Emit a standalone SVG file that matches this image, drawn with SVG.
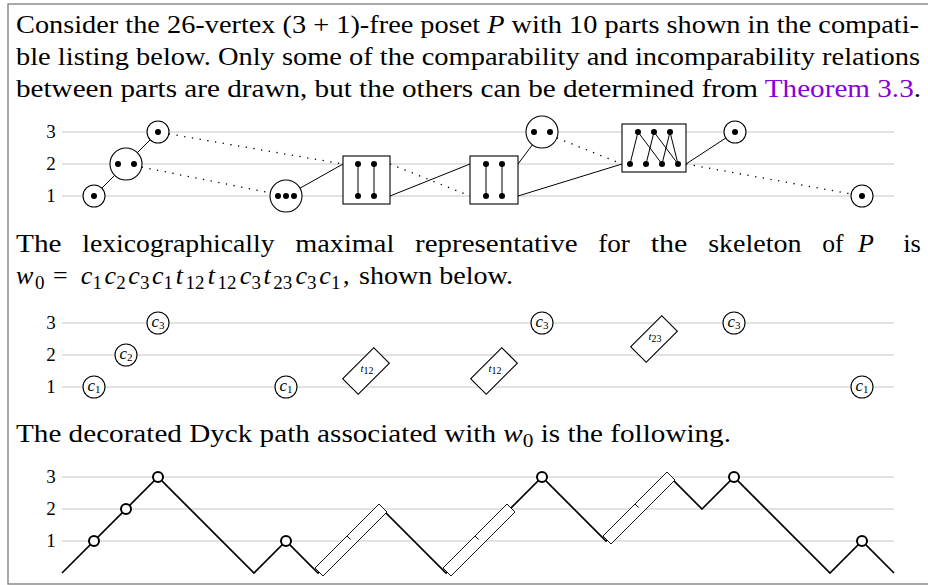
<svg xmlns="http://www.w3.org/2000/svg" width="928" height="585" viewBox="0 0 928 585">
<style>
.t{font-family:"Liberation Serif","Times New Roman",serif;font-size:26px;fill:#000}
.i{font-style:italic}
.s{font-size:19px}
.lab{font-family:"Liberation Serif",serif;font-size:19px;text-anchor:middle;fill:#000}
.cl{font-family:"Liberation Serif",serif;font-size:17px;text-anchor:middle;fill:#000}
.tl{font-family:"Liberation Serif",serif;font-size:11px;text-anchor:middle;fill:#000}
.grid{stroke:#c6c6c6;stroke-width:1;fill:none}
.node{fill:#fff;stroke:#000;stroke-width:1.1}
.dot{fill:#000}
.edge{stroke:#000;stroke-width:1;fill:none}
.dotted{stroke:#000;stroke-width:1.3;stroke-dasharray:1.3 6.5;fill:none}
.dyck{stroke:#000;stroke-width:1.7;fill:none;stroke-linejoin:miter}
.dec{fill:#fff;stroke:#000;stroke-width:0.9}
.mark{fill:#fff;stroke:#000;stroke-width:2}
</style>
<rect x="8" y="4" width="930" height="580" fill="#fff" stroke="#7a7a7a" stroke-width="1.3"/>

<g id="text">
<text class="t" x="16" y="33" textLength="903" lengthAdjust="spacingAndGlyphs">Consider the 26-vertex (3 + 1)-free poset <tspan class="i">P</tspan> with 10 parts shown in the compati-</text>
<text class="t" x="16" y="65" textLength="904" lengthAdjust="spacingAndGlyphs">ble listing below. Only some of the comparability and incomparability relations</text>
<text class="t" x="16" y="97" textLength="905" lengthAdjust="spacingAndGlyphs">between parts are drawn, but the others can be determined from <tspan fill="#8a00d6">Theorem 3.3</tspan>.</text>

<text class="t" x="16" y="252" textLength="45.5" lengthAdjust="spacingAndGlyphs">The</text>
<text class="t" x="82.3" y="252" textLength="192.2" lengthAdjust="spacingAndGlyphs">lexicographically</text>
<text class="t" x="295.3" y="252" textLength="99" lengthAdjust="spacingAndGlyphs">maximal</text>
<text class="t" x="415.1" y="252" textLength="162.4" lengthAdjust="spacingAndGlyphs">representative</text>
<text class="t" x="598.3" y="252" textLength="31.6" lengthAdjust="spacingAndGlyphs">for</text>
<text class="t" x="650.7" y="252" textLength="36.7" lengthAdjust="spacingAndGlyphs">the</text>
<text class="t" x="708.2" y="252" textLength="93.3" lengthAdjust="spacingAndGlyphs">skeleton</text>
<text class="t" x="822.3" y="252" textLength="21.3" lengthAdjust="spacingAndGlyphs">of</text>
<text class="t i" x="858" y="252">P</text>
<text class="t" x="903.2" y="252" textLength="17.7" lengthAdjust="spacingAndGlyphs">is</text>

<text class="t" y="284"><tspan class="i" x="16">w</tspan><tspan class="s" x="35" dy="5">0</tspan><tspan x="53" dy="-5">=</tspan></text>
<text class="t" y="284"><tspan class="i" x="80.8">c</tspan><tspan class="s" x="92.4" dy="5">1</tspan><tspan class="i" x="104.6" dy="-5">c</tspan><tspan class="s" x="116.2" dy="5">2</tspan><tspan class="i" x="128.3" dy="-5">c</tspan><tspan class="s" x="139.9" dy="5">3</tspan><tspan class="i" x="152" dy="-5">c</tspan><tspan class="s" x="163.6" dy="5">1</tspan><tspan class="i" x="175.8" dy="-5">t</tspan><tspan class="s" x="185.6" dy="5">12</tspan><tspan class="i" x="207.8" dy="-5">t</tspan><tspan class="s" x="217.6" dy="5">12</tspan><tspan class="i" x="239.8" dy="-5">c</tspan><tspan class="s" x="251.4" dy="5">3</tspan><tspan class="i" x="263.5" dy="-5">t</tspan><tspan class="s" x="273.3" dy="5">23</tspan><tspan class="i" x="295.5" dy="-5">c</tspan><tspan class="s" x="307.1" dy="5">3</tspan><tspan class="i" x="319.3" dy="-5">c</tspan><tspan class="s" x="330.9" dy="5">1</tspan><tspan x="343" dy="-5">,</tspan></text>
<text class="t" x="359" y="284" textLength="154" lengthAdjust="spacingAndGlyphs">shown below.</text>

<text class="t" x="16" y="442" textLength="715" lengthAdjust="spacingAndGlyphs">The decorated Dyck path associated with <tspan class="i">w</tspan><tspan class="s" dy="5">0</tspan><tspan dy="-5"> is the following.</tspan></text>
</g>

<g id="grid">
<path class="grid" d="M62 132H894M62 164H894M62 196H894M62 323H894M62 355H894M62 387H894M62 477H894M62 509H894M62 541H894"/>
<text class="lab" x="51" y="138">3</text><text class="lab" x="51" y="170">2</text><text class="lab" x="51" y="202">1</text>
<text class="lab" x="51" y="329">3</text><text class="lab" x="51" y="361">2</text><text class="lab" x="51" y="393">1</text>
<text class="lab" x="51" y="483">3</text><text class="lab" x="51" y="515">2</text><text class="lab" x="51" y="547">1</text>
</g>

<g id="connectors">
<line class="edge" x1="101.8" y1="188.2" x2="114.7" y2="175.3"/>
<line class="edge" x1="137.3" y1="152.7" x2="150.2" y2="139.8"/>
<line class="dotted" x1="168.8" y1="133.9" x2="343" y2="164"/>
<line class="dotted" x1="141.7" y1="167.1" x2="270.3" y2="192.9"/>
<line class="edge" x1="300" y1="188.2" x2="343" y2="164"/>
<line class="dotted" x1="390" y1="164" x2="470" y2="196"/>
<line class="edge" x1="390" y1="196" x2="470" y2="164"/>
<line class="edge" x1="518" y1="164" x2="532.4" y2="144.8"/>
<line class="edge" x1="518" y1="196" x2="622" y2="164"/>
<line class="dotted" x1="556.8" y1="137.9" x2="622" y2="164"/>
<line class="edge" x1="686" y1="164" x2="725.8" y2="138"/>
<line class="dotted" x1="686" y1="164" x2="851.2" y2="194"/>
</g>

<g id="p1"><circle class="node" cx="94" cy="196" r="11"/><circle class="dot" cx="94" cy="196" r="3"/></g>
<g id="p2"><circle class="node" cx="126" cy="164" r="16"/><circle class="dot" cx="118" cy="164" r="3"/><circle class="dot" cx="134" cy="164" r="3"/></g>
<g id="p3"><circle class="node" cx="158" cy="132" r="11"/><circle class="dot" cx="158" cy="132" r="3"/></g>
<g id="p4"><circle class="node" cx="286" cy="196" r="16"/><circle class="dot" cx="278" cy="196" r="3"/><circle class="dot" cx="286" cy="196" r="3"/><circle class="dot" cx="294" cy="196" r="3"/></g>
<g id="p5"><rect class="node" x="343" y="156" width="47" height="48"/><path class="edge" d="M358 164V196M374 164V196"/><circle class="dot" cx="358" cy="164" r="3"/><circle class="dot" cx="374" cy="164" r="3"/><circle class="dot" cx="358" cy="196" r="3"/><circle class="dot" cx="374" cy="196" r="3"/></g>
<g id="p6"><rect class="node" x="470" y="156" width="48" height="48"/><path class="edge" d="M486 164V196M502 164V196"/><circle class="dot" cx="486" cy="164" r="3"/><circle class="dot" cx="502" cy="164" r="3"/><circle class="dot" cx="486" cy="196" r="3"/><circle class="dot" cx="502" cy="196" r="3"/></g>
<g id="p7"><circle class="node" cx="542" cy="132" r="16"/><circle class="dot" cx="534" cy="132" r="3"/><circle class="dot" cx="550" cy="132" r="3"/></g>
<g id="p8"><rect class="node" x="622" y="124" width="64" height="48"/><path class="edge" d="M638 132L630 164M638 132L662 164M654 132L646 164M654 132L678 164M670 132L662 164M670 132L678 164"/><circle class="dot" cx="638" cy="132" r="3"/><circle class="dot" cx="654" cy="132" r="3"/><circle class="dot" cx="670" cy="132" r="3"/><circle class="dot" cx="630" cy="164" r="3"/><circle class="dot" cx="646" cy="164" r="3"/><circle class="dot" cx="662" cy="164" r="3"/><circle class="dot" cx="678" cy="164" r="3"/></g>
<g id="p9"><circle class="node" cx="735" cy="132" r="11"/><circle class="dot" cx="735" cy="132" r="3"/></g>
<g id="p10"><circle class="node" cx="862" cy="196" r="11"/><circle class="dot" cx="862" cy="196" r="3"/></g>

<g id="w1"><circle class="node" cx="94" cy="387" r="11"/><text class="cl" x="94" y="391"><tspan class="i">c</tspan><tspan font-size="11" dy="2">1</tspan></text></g>
<g id="w2"><circle class="node" cx="126" cy="355" r="11"/><text class="cl" x="126" y="359"><tspan class="i">c</tspan><tspan font-size="11" dy="2">2</tspan></text></g>
<g id="w3"><circle class="node" cx="158" cy="323" r="11"/><text class="cl" x="158" y="327"><tspan class="i">c</tspan><tspan font-size="11" dy="2">3</tspan></text></g>
<g id="w4"><circle class="node" cx="286" cy="387" r="11"/><text class="cl" x="286" y="391"><tspan class="i">c</tspan><tspan font-size="11" dy="2">1</tspan></text></g>
<g id="w5"><rect class="node" x="344" y="360" width="44" height="22" transform="rotate(-45 366 371)"/><text class="tl" x="367" y="372"><tspan class="i">t</tspan><tspan font-size="10" dy="2">12</tspan></text></g>
<g id="w6"><rect class="node" x="472" y="360" width="44" height="22" transform="rotate(-45 494 371)"/><text class="tl" x="495" y="372"><tspan class="i">t</tspan><tspan font-size="10" dy="2">12</tspan></text></g>
<g id="w7"><circle class="node" cx="542" cy="323" r="11"/><text class="cl" x="542" y="327"><tspan class="i">c</tspan><tspan font-size="11" dy="2">3</tspan></text></g>
<g id="w8"><rect class="node" x="632" y="328" width="44" height="22" transform="rotate(-45 654 339)"/><text class="tl" x="655" y="340"><tspan class="i">t</tspan><tspan font-size="10" dy="2">23</tspan></text></g>
<g id="w9"><circle class="node" cx="734" cy="323" r="11"/><text class="cl" x="734" y="327"><tspan class="i">c</tspan><tspan font-size="11" dy="2">3</tspan></text></g>
<g id="w10"><circle class="node" cx="862" cy="387" r="11"/><text class="cl" x="862" y="391"><tspan class="i">c</tspan><tspan font-size="11" dy="2">1</tspan></text></g>

<g id="dyck">
<path class="dyck" d="M62 573L158 477L254 573L286 541L318 573L382 509L446 573L542 477L606 541L670 477L702 509L734 477L830 573L862 541L894 573"/>
<path class="dec" d="M315 568L323 576L387 512L379 504Z"/><path class="edge" stroke-width="0.9" d="M347 536L350.5 539.5"/>
<path class="dec" d="M443 568L451 576L515 512L507 504Z"/><path class="edge" stroke-width="0.9" d="M475 536L478.5 539.5"/>
<path class="dec" d="M603 536L611 544L675 480L667 472Z"/><path class="edge" stroke-width="0.9" d="M635 504L638.5 507.5"/>
<circle class="mark" cx="94" cy="541" r="5"/><circle class="mark" cx="126" cy="509" r="5"/><circle class="mark" cx="158" cy="477" r="5"/><circle class="mark" cx="286" cy="541" r="5"/><circle class="mark" cx="542" cy="477" r="5"/><circle class="mark" cx="734" cy="477" r="5"/><circle class="mark" cx="862" cy="541" r="5"/>
</g>
</svg>
